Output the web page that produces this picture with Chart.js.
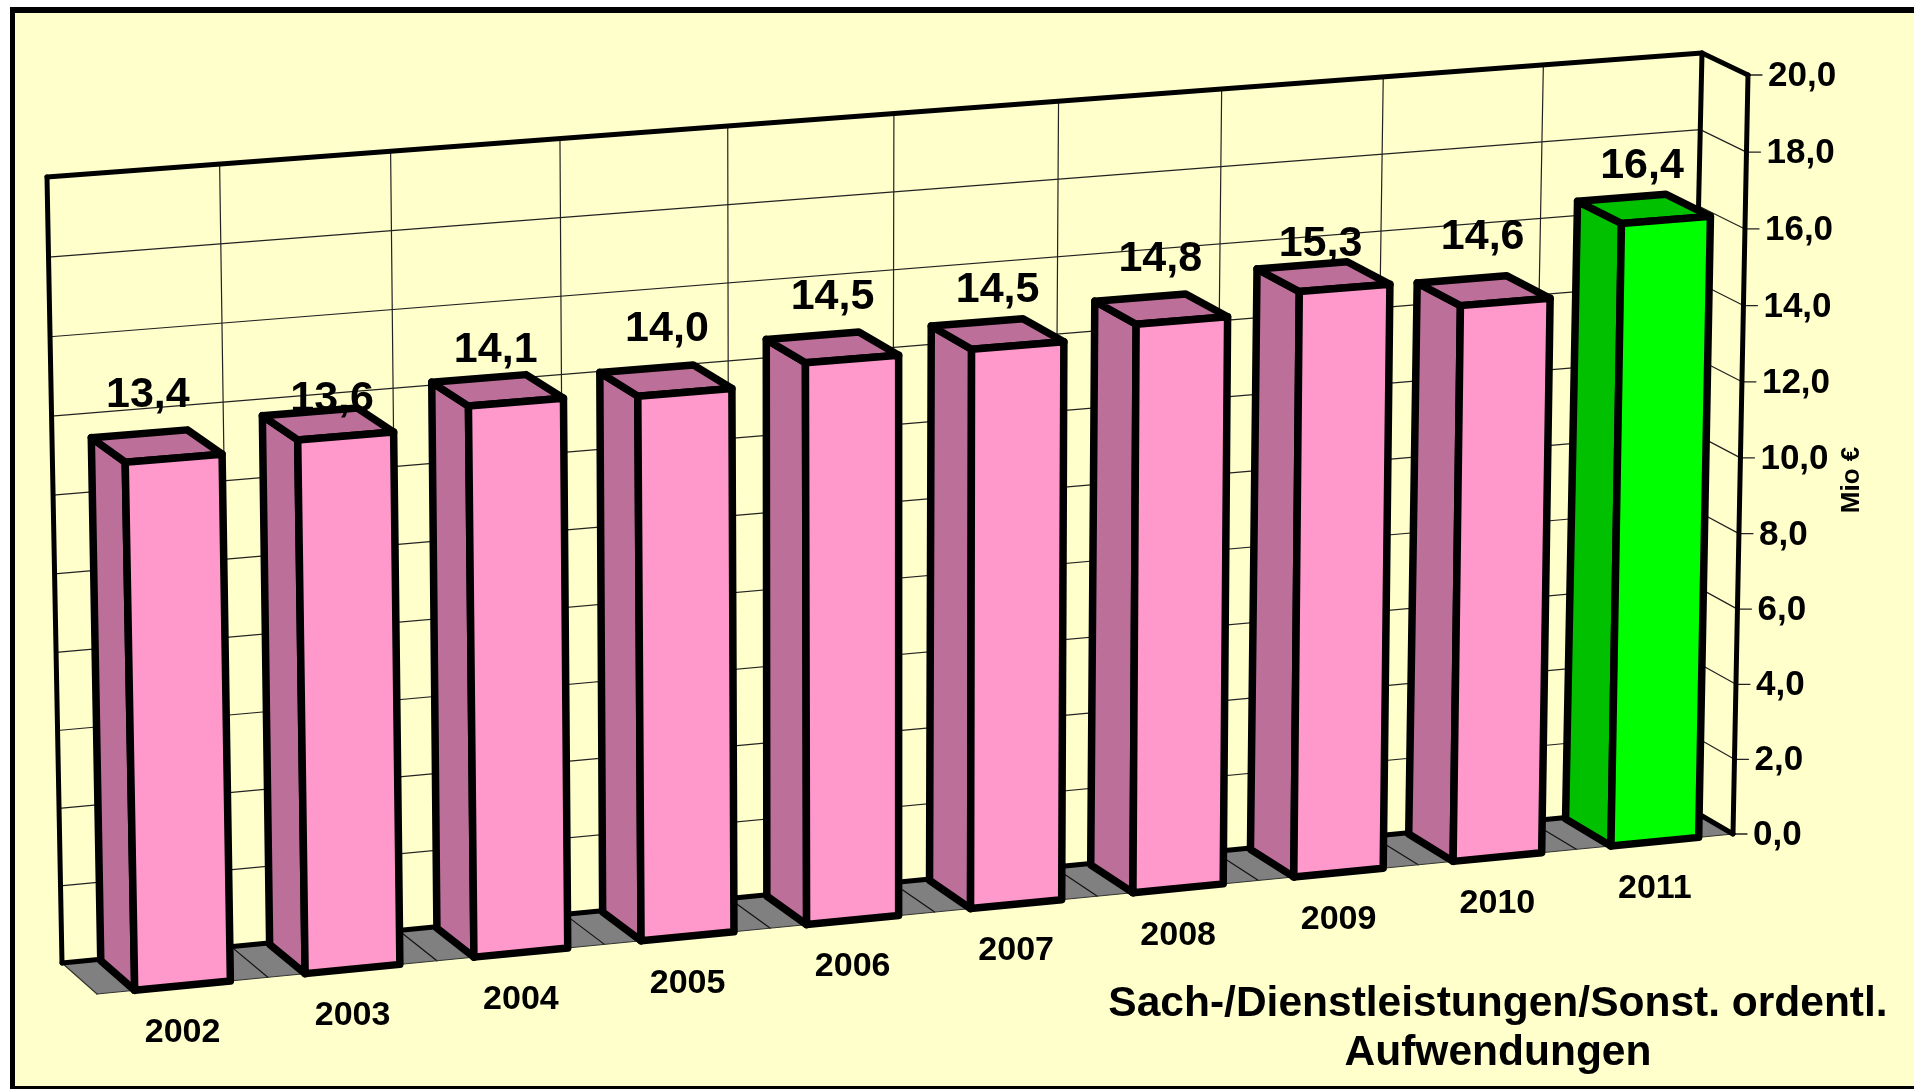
<!DOCTYPE html>
<html><head><meta charset="utf-8">
<style>html,body{margin:0;padding:0;background:#fff}#w{width:1914px;height:1089px}canvas{display:block}</style>
<script src="https://cdn.jsdelivr.net/npm/chart.js@4/dist/chart.umd.min.js"></script>
</head><body><div id="w"><canvas id="c" width="1914" height="1089"></canvas></div>
<script>
const years = ['2002','2003','2004','2005','2006','2007','2008','2009','2010','2011'];
const expenses = [13.4,13.6,14.1,14.0,14.5,14.5,14.8,15.3,14.6,16.4];
const yTickStep = 2, yMin = 0, yMax = 20;
const titleLines = ['Sach-/Dienstleistungen/Sonst. ordentl.','Aufwendungen'];
const axisTitle = 'Mio €';
const frontColors = ['#FF99CC','#FF99CC','#FF99CC','#FF99CC','#FF99CC','#FF99CC','#FF99CC','#FF99CC','#FF99CC','#00FF00'];
const sideColors  = ['#BC6F99','#BC6F99','#BC6F99','#BC6F99','#BC6F99','#BC6F99','#BC6F99','#BC6F99','#BC6F99','#00C000'];
// hand-placed value label nudges of the original, in px from the top face centre
const labelNudge = [[-8,-50],[5,-24],[-1,-40],[2,-51],[1,-50],[1,-43],[0,-49],[-2,-32],[0,-53],[-1,-42]];

const FONT = '"Liberation Sans", Arial, sans-serif';
// projection: unit (u along categories, v along values) onto the front and back planes
function homography(p){
  const [p0,p1,p2,p3]=p;
  const dx1=p1[0]-p2[0],dx2=p3[0]-p2[0],sx=p0[0]-p1[0]+p2[0]-p3[0];
  const dy1=p1[1]-p2[1],dy2=p3[1]-p2[1],sy=p0[1]-p1[1]+p2[1]-p3[1];
  const den=dx1*dy2-dx2*dy1;
  const g=(sx*dy2-dx2*sy)/den,h=(dx1*sy-sx*dy1)/den;
  const a=p1[0]-p0[0]+g*p1[0],b=p3[0]-p0[0]+h*p3[0],c=p0[0];
  const d=p1[1]-p0[1]+g*p1[1],e=p3[1]-p0[1]+h*p3[1],f=p0[1];
  return (u,v)=>{const q=g*u+h*v+1;return [(a*u+b*v+c)/q,(d*u+e*v+f)/q];};
}
const frontPlane = homography([[97,994],[1733,834],[1748,75],[82,200]]);
const backPlane  = homography([[62,963],[1685,806],[1702,53],[47,177]]);
function P(u,v,w){const a=frontPlane(u,v),b=backPlane(u,v);return [a[0]+(b[0]-a[0])*w,a[1]+(b[1]-a[1])*w];}

function poly(ctx,pts,fill,stroke,lw){
  ctx.beginPath();pts.forEach((p,i)=>i?ctx.lineTo(p[0],p[1]):ctx.moveTo(p[0],p[1]));ctx.closePath();
  if(fill){ctx.fillStyle=fill;ctx.fill();}
  if(stroke){ctx.strokeStyle=stroke;ctx.lineWidth=lw;ctx.stroke();}
}
function seg(ctx,a,b,lw,col){ctx.beginPath();ctx.moveTo(a[0],a[1]);ctx.lineTo(b[0],b[1]);ctx.lineWidth=lw;ctx.strokeStyle=col||'#000';ctx.stroke();}

const plot3d = {
  id:'plot3d',
  afterLayout(chart){
    const t=chart.titleBlock;
    if(t){t.left=1098;t.right=1898;t.width=800;t.top=980;t.bottom=1078;t.height=98;}
  },
  beforeDraw(chart){
    const {ctx,chartArea:ca,scales:{x,y}}=chart;
    const U=px=>(px-ca.left)/(ca.right-ca.left), V=py=>(ca.bottom-py)/(ca.bottom-ca.top);
    ctx.save();
    ctx.fillStyle='#fff';ctx.fillRect(0,0,1914,1089);
    ctx.fillStyle='#000';ctx.fillRect(10,7,1904,1082);
    ctx.fillStyle='#FFFFCC';ctx.fillRect(15,13,1899,1073);
    ctx.lineJoin='round';ctx.lineCap='round';
    // floor
    poly(ctx,[P(0,0,0),P(1,0,0),P(1,0,1),P(0,0,1)],'#808080');
    years.forEach((_,i)=>{const u=i/years.length;if(i)seg(ctx,P(u,0,0),P(u,0,1),1.2,'#111');});
    seg(ctx,P(0,0,0),P(1,0,0),1.2,'#333');
    seg(ctx,P(0,0,0),P(0,0,1),1.2,'#333');
    // walls grid
    y.ticks.forEach((t,i)=>{
      const v=V(y.getPixelForTick(i));
      if(i>0&&i<y.ticks.length-1){
        seg(ctx,P(0,v,1),P(1,v,1),1.2,'#222');
        seg(ctx,P(1,v,1),P(1,v,0),1.2,'#222');
      }
      const a=P(1,v,0);seg(ctx,a,[a[0]+14,a[1]],1.3,'#222');
    });
    years.forEach((_,i)=>{const u=i/years.length;if(i)seg(ctx,P(u,0,1),P(u,1,1),1.2,'#222');});
    // heavy frame
    seg(ctx,P(0,0,1),P(0,1,1),5);
    seg(ctx,P(0,1,1),P(1,1,1),5);
    seg(ctx,P(1,1,1),P(1,0,1),5);
    seg(ctx,P(1,1,1),P(1,1,0),5);
    seg(ctx,P(1,1,0),P(1,0,0),5);
    seg(ctx,P(0,0,1),P(1,0,1),5);
    seg(ctx,P(1,0,1),P(1,0,0),5);
    // native tick labels moved onto the projected axes
    x._computeLabelArea=()=>undefined;
    y._computeLabelArea=()=>undefined;
    y.getLabelItems(ca).forEach((it,i)=>{
      const a=P(1,V(y.getPixelForTick(i)),0);
      it.options.translation=[a[0]+20,a[1]+1.5];
      it.options.textAlign='left';
    });
    x.getLabelItems(ca).forEach((it,i)=>{
      const a=P(U(x.getPixelForTick(i)),0,0);
      it.options.translation=[a[0],a[1]+47-it.textOffset];
      it.options.textAlign='center';
    });
    // axis title
    ctx.save();ctx.translate(1852,480);ctx.rotate(-Math.PI/2);
    ctx.font='bold 26px '+FONT;ctx.fillStyle='#000';ctx.textAlign='center';ctx.textBaseline='middle';
    ctx.fillText(axisTitle,0,0);ctx.restore();
    ctx.restore();
  },
  beforeDatasetDraw(chart,args){
    const {ctx,chartArea:ca}=chart;
    const U=px=>(px-ca.left)/(ca.right-ca.left), V=py=>(ca.bottom-py)/(ca.bottom-ca.top);
    const meta=args.meta;
    ctx.save();ctx.lineJoin='round';ctx.lineCap='round';
    meta.data.forEach((b,i)=>{
      const ul=U(b.x-b.width/2),ur=U(b.x+b.width/2),vt=V(b.y),vb=V(b.base);
      const w0=0.0,w1=0.96;
      const LW=7.5;
      poly(ctx,[P(ul,vb,w0),P(ul,vt,w0),P(ul,vt,w1),P(ul,vb,w1)],sideColors[i],'#000',LW);
      poly(ctx,[P(ul,vt,w0),P(ur,vt,w0),P(ur,vt,w1),P(ul,vt,w1)],sideColors[i],'#000',LW);
      poly(ctx,[P(ul,vb,w0),P(ur,vb,w0),P(ur,vt,w0),P(ul,vt,w0)],frontColors[i],'#000',LW);
    });
    ctx.restore();
    return false;
  },
  afterDatasetsDraw(chart){
    const {ctx,chartArea:ca}=chart;
    const U=px=>(px-ca.left)/(ca.right-ca.left), V=py=>(ca.bottom-py)/(ca.bottom-ca.top);
    ctx.save();
    ctx.font='bold 43px '+FONT;ctx.fillStyle='#000';ctx.textAlign='center';ctx.textBaseline='middle';
    chart.getDatasetMeta(0).data.forEach((b,i)=>{
      const c=P(U(b.x),V(b.y),0.5);
      ctx.fillText(expenses[i].toFixed(1).replace('.',','),c[0]+labelNudge[i][0],c[1]+labelNudge[i][1]);
    });
    ctx.restore();
  }
};

new Chart(document.getElementById('c'),{
  type:'bar',
  data:{labels:years,datasets:[{label:'Sach-/Dienstleistungen/Sonst. ordentl. Aufwendungen',data:expenses,backgroundColor:frontColors,borderColor:'#000',borderWidth:6}]},
  options:{
    responsive:false,animation:false,devicePixelRatio:1,
    layout:{padding:{left:60,right:60,top:60,bottom:10}},
    datasets:{bar:{barPercentage:0.56,categoryPercentage:1}},
    plugins:{
      legend:{display:false},tooltip:{enabled:false},
      title:{display:true,position:'bottom',text:titleLines,color:'#000',padding:0,
             font:{family:FONT,size:42.5,weight:'bold',lineHeight:1.15}}
    },
    scales:{
      x:{type:'category',grid:{display:false},border:{display:false},
         ticks:{autoSkip:false,maxRotation:0,minRotation:0,color:'#000',font:{family:FONT,size:34,weight:'bold'}}},
      y:{type:'linear',position:'right',min:yMin,max:yMax,grid:{display:false},border:{display:false},
         ticks:{stepSize:yTickStep,color:'#000',font:{family:FONT,size:35,weight:'bold'},
                callback:v=>Number(v).toFixed(1).replace('.',',')}}
    }
  },
  plugins:[plot3d]
});
</script></body></html>
